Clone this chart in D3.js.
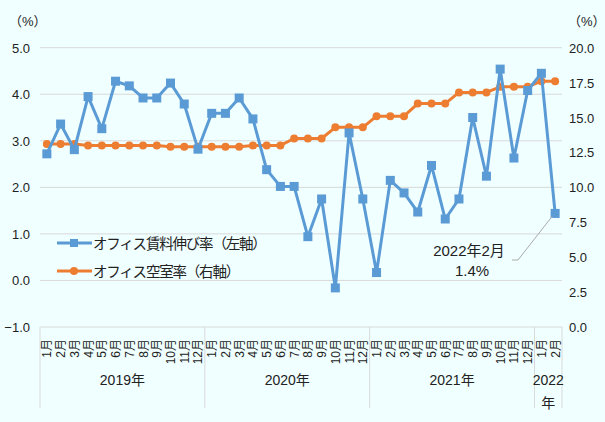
<!DOCTYPE html>
<html>
<head>
<meta charset="utf-8">
<title></title>
<script src="https://d3js.org/d3.v7.min.js"></script>
<style>
  body { margin: 0; background: #f0ffff; }
  svg { display: block; font-family: "Liberation Sans", "Noto Sans CJK JP", sans-serif; }
</style>
</head>
<body>
<svg id="chart" width="605" height="422"></svg>
<script>
// data
var years = ["2019年", "2020年", "2021年", "2022年"];
var monthsPerYear = [12, 12, 12, 2];
var rentGrowth = [2.72, 3.36, 2.81, 3.95, 3.26, 4.28, 4.18, 3.92, 3.92, 4.24, 3.79, 2.82,
                  3.59, 3.59, 3.92, 3.47, 2.38, 2.02, 2.02, 0.94, 1.75, -0.16, 3.17, 1.75,
                  0.17, 2.15, 1.88, 1.47, 2.47, 1.32, 1.75, 3.50, 2.24, 4.54, 2.63, 4.08,
                  4.45, 1.44];
var vacancy = [13.1, 13.1, 13.1, 13.0, 13.0, 13.0, 13.0, 13.0, 13.0, 12.9, 12.9, 12.9,
               12.9, 12.9, 12.9, 13.0, 13.0, 13.0, 13.5, 13.5, 13.5, 14.3, 14.3, 14.3,
               15.1, 15.1, 15.1, 16.0, 16.0, 16.0, 16.8, 16.8, 16.8, 17.2, 17.2, 17.2,
               17.6, 17.6];
var leftTicks = [-1, 0, 1, 2, 3, 4, 5];
var rightTicks = [0, 2.5, 5, 7.5, 10, 12.5, 15, 17.5, 20];
var legendNames = ["オフィス賃料伸び率（左軸）", "オフィス空室率（右軸）"];

var blue = "#5b9bd5", orange = "#ed7d31", grid = "#d9d9d9";

// categories
var cats = [];
years.forEach(function (y, i) {
  for (var m = 1; m <= monthsPerYear[i]; m++) cats.push({ year: i, label: m + "月" });
});

var svg = d3.select("#chart");
var x = d3.scaleBand().domain(d3.range(cats.length)).range([40, 562]);
var yL = d3.scaleLinear().domain([-1, 5]).range([327, 47.7]);
var yR = d3.scaleLinear().domain([0, 20]).range([327, 47.7]);
var cx = function (i) { return x(i) + x.bandwidth() / 2; };

// gridlines
svg.append("g").selectAll("line").data(leftTicks).enter().append("line")
  .attr("x1", 40).attr("x2", 562)
  .attr("y1", d => yL(d)).attr("y2", d => yL(d))
  .attr("stroke", grid).attr("stroke-width", 1);

// left labels
svg.append("g").selectAll("text").data(leftTicks).enter().append("text")
  .attr("x", 30).attr("y", d => yL(d) + 5)
  .attr("text-anchor", "end").attr("font-size", 13).attr("fill", "#222")
  .text(d => (d < 0 ? "\u2212" + (-d).toFixed(1) : d.toFixed(1)));

// right labels
svg.append("g").selectAll("text").data(rightTicks).enter().append("text")
  .attr("x", 569).attr("y", d => yR(d) + 5)
  .attr("text-anchor", "start").attr("font-size", 13).attr("fill", "#222")
  .text(d => d.toFixed(1));

svg.append("text").attr("x", 9).attr("y", 26).attr("font-size", 13).attr("fill", "#222").text("（%）");
svg.append("text").attr("x", 568).attr("y", 26).attr("font-size", 13).attr("fill", "#222").text("（%）");

// category axis
var bounds = [0];
monthsPerYear.forEach(function (n, i) { bounds.push(bounds[i] + n); });
svg.append("g").selectAll("line").data(bounds).enter().append("line")
  .attr("x1", d => d < cats.length ? x(d) : 562).attr("x2", d => d < cats.length ? x(d) : 562)
  .attr("y1", 327).attr("y2", 408)
  .attr("stroke", grid);

svg.append("g").selectAll("text").data(cats).enter().append("text")
  .attr("transform", (d, i) => "translate(" + (cx(i) + 4.5) + ",339) rotate(-90)")
  .attr("text-anchor", "end").attr("font-size", 12).attr("fill", "#222")
  .text(d => d.label);

years.forEach(function (y, i) {
  var mid = (x(bounds[i]) + (bounds[i + 1] < cats.length ? x(bounds[i + 1]) : 562)) / 2;
  var t = svg.append("text").attr("x", mid).attr("y", 385)
    .attr("text-anchor", "middle").attr("font-size", 14).attr("fill", "#222");
  if (monthsPerYear[i] < 4) {
    t.text(y.slice(0, 4));
    svg.append("text").attr("x", mid).attr("y", 408)
      .attr("text-anchor", "middle").attr("font-size", 14).attr("fill", "#222").text(y.slice(4));
  } else {
    t.text(y);
  }
});

// lines
var lineL = d3.line().x((d, i) => cx(i)).y(d => yL(d));
var lineR = d3.line().x((d, i) => cx(i)).y(d => yR(d));

svg.append("path").attr("d", lineR(vacancy))
  .attr("fill", "none").attr("stroke", orange).attr("stroke-width", 3).attr("stroke-linejoin", "round");
svg.append("g").selectAll("circle").data(vacancy).enter().append("circle")
  .attr("cx", (d, i) => cx(i)).attr("cy", d => yR(d)).attr("r", 4).attr("fill", orange);

svg.append("path").attr("d", lineL(rentGrowth))
  .attr("fill", "none").attr("stroke", blue).attr("stroke-width", 3).attr("stroke-linejoin", "round");
svg.append("g").selectAll("rect").data(rentGrowth).enter().append("rect")
  .attr("x", (d, i) => cx(i) - 4.5).attr("y", d => yL(d) - 4.5)
  .attr("width", 9).attr("height", 9).attr("fill", blue);

// annotation
var last = rentGrowth.length - 1;
svg.append("polyline")
  .attr("points", [[512, 260], [518, 260], [cx(last) - 3, yL(rentGrowth[last]) + 3]].join(" "))
  .attr("fill", "none").attr("stroke", "#aaa").attr("stroke-width", 1);
svg.append("text").attr("x", 469).attr("y", 256).attr("text-anchor", "middle")
  .attr("font-size", 15).attr("fill", "#222").text("2022年2月");
svg.append("text").attr("x", 472).attr("y", 276).attr("text-anchor", "middle")
  .attr("font-size", 15).attr("fill", "#222").text(rentGrowth[last].toFixed(1) + "%");

// legend
var lg = svg.append("g").selectAll("g").data(legendNames).enter().append("g")
  .attr("transform", (d, i) => "translate(0," + (243 + i * 28) + ")");
lg.append("line").attr("x1", 57).attr("x2", 92).attr("y1", 0).attr("y2", 0)
  .attr("stroke", (d, i) => i ? orange : blue).attr("stroke-width", 3);
lg.each(function (d, i) {
  var g = d3.select(this);
  if (i === 0) g.append("rect").attr("x", 70).attr("y", -4).attr("width", 8).attr("height", 8).attr("fill", blue);
  else g.append("circle").attr("cx", 74).attr("cy", 0).attr("r", 4).attr("fill", orange);
});
lg.append("text").attr("x", 93).attr("y", 6).attr("font-size", 14.5).attr("letter-spacing", -1.2)
  .attr("fill", "#222").text(d => d);
</script>
</body>
</html>
